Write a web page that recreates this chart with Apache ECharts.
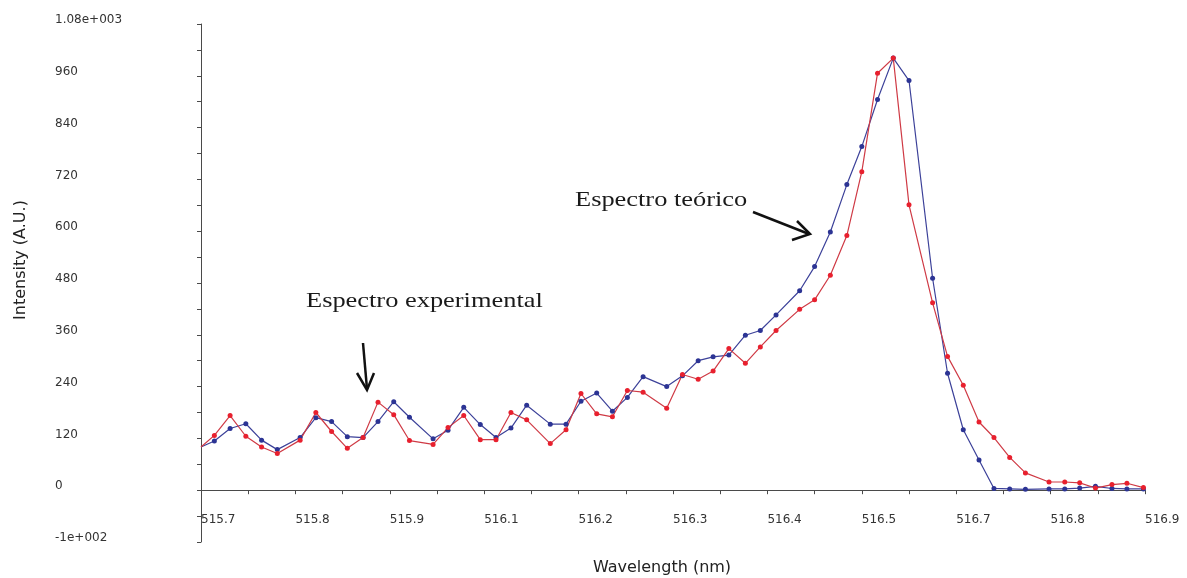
<!DOCTYPE html>
<html>
<head>
<meta charset="utf-8">
<script src="https://cdn.jsdelivr.net/npm/echarts@6/dist/echarts.min.js"></script>
<style>
  html, body { margin: 0; padding: 0; background: #fff; }
  #chart-container { width: 1187px; height: 578px; }
</style>
</head>
<body>
<div id="chart-container"></div>
<script>
// wavelength (nm) shared by both spectra
var wavelength = [515.700, 515.717, 515.737, 515.757, 515.777, 515.797, 515.826, 515.846, 515.866, 515.886,
    515.906, 515.925, 515.945, 515.965, 515.995, 516.014, 516.034, 516.055, 516.075, 516.094,
    516.114, 516.144, 516.164, 516.183, 516.203, 516.223, 516.242, 516.262, 516.292, 516.312,
    516.332, 516.351, 516.371, 516.392, 516.411, 516.431, 516.461, 516.480, 516.500, 516.521,
    516.540, 516.560, 516.580, 516.600, 516.630, 516.649, 516.669, 516.689, 516.708, 516.728,
    516.748, 516.778, 516.798, 516.817, 516.837, 516.858, 516.877, 516.898];

// red = experimental
var experimental = [100, 127, 173, 125, 100, 85, 116, 180, 136, 97,
    122, 204, 175, 115, 106, 145, 173, 117, 117, 180,
    163, 108, 140, 224, 177, 170, 231, 227, 190, 268,
    257, 276, 328, 294, 332, 370, 419, 441, 498, 590,
    738, 966, 1001, 661, 434, 310, 243, 158, 122, 76,
    40, 19, 19, 17, 5, 13, 16, 6];

// blue = theoretical
var theoretical = [100, 114, 143, 154, 116, 94, 122, 168, 159, 124,
    122, 159, 205, 169, 119, 139, 192, 152, 122, 144,
    197, 153, 153, 206, 225, 183, 215, 263, 240, 265,
    300, 309, 313, 359, 370, 406, 462, 518, 598, 708,
    796, 905, 1001, 949, 491, 271, 140, 70, 4, 3,
    2, 3, 3, 5, 9, 4, 3, 3];

// x axis ticks (labels are rounded to one decimal, as in the original)
var xLabelTicks = [515.70, 515.82, 515.94, 516.06, 516.18, 516.30, 516.42, 516.54, 516.66, 516.78, 516.90];
var xAllTicks = [515.70, 515.76, 515.82, 515.88, 515.94, 516.00, 516.06, 516.12, 516.18, 516.24, 516.30,
    516.36, 516.42, 516.48, 516.54, 516.60, 516.66, 516.72, 516.78, 516.84, 516.90];

function pairs(xs, ys) {
    return xs.map(function (x, i) {
        if (i === 0) return { value: [x, ys[i]], symbolSize: 0 };
        return [x, ys[i]];
    });
}

var dom = document.getElementById('chart-container');
var myChart = echarts.init(dom, null, { renderer: 'canvas' });

var axisColor = '#4a4a4a';
var labelFont = 'DejaVu Sans';
// grid: -120 .. 1080 over 24px .. 542px, so the zero line sits 51.8px above the bottom
var zeroOffset = -51.8;

var option = {
    animation: false,
    grid: { left: 201, right: 42, top: 24, bottom: 36, outerBoundsMode: 'none', containLabel: false },
    xAxis: {
        type: 'value',
        min: 515.70,
        max: 516.90,
        position: 'bottom',
        offset: zeroOffset,
        name: 'Wavelength (nm)',
        nameLocation: 'middle',
        nameGap: 70,
        nameTextStyle: { fontFamily: labelFont, fontSize: 16, color: '#222', padding: [0, 22, 0, 0] },
        axisLine: { onZero: false, lineStyle: { color: axisColor, width: 1 } },
        axisTick: { show: true, length: 4, customValues: xAllTicks, lineStyle: { color: axisColor } },
        axisLabel: {
            customValues: xLabelTicks,
            align: 'left',
            margin: 24,
            fontFamily: labelFont,
            fontSize: 12,
            color: '#333',
            formatter: function (v) { return v.toFixed(1); }
        },
        splitLine: { show: false }
    },
    yAxis: {
        type: 'value',
        min: -120,
        max: 1080,
        interval: 120,
        name: 'Intensity (A.U.)',
        nameLocation: 'middle',
        nameGap: 172,
        nameTextStyle: { fontFamily: labelFont, fontSize: 16, color: '#222', padding: [0, 0, 0, 46] },
        axisLine: { show: true, onZero: false, lineStyle: { color: axisColor, width: 1 } },
        axisTick: { show: true, length: 4, lineStyle: { color: axisColor } },
        minorTick: { show: true, splitNumber: 2, length: 4, lineStyle: { color: axisColor } },
        axisLabel: {
            align: 'left',
            verticalAlign: 'bottom',
            lineHeight: 8,
            margin: 146,
            fontFamily: labelFont,
            fontSize: 12,
            color: '#333',
            formatter: function (v) {
                if (v === 1080) return '1.08e+003';
                if (v === -120) return '-1e+002';
                return String(v);
            }
        },
        splitLine: { show: false }
    },
    graphic: [
        {
            type: 'text', left: 575, top: 189, scaleX: 1.2,
            style: { text: 'Espectro teórico', font: '22px "Liberation Serif"', fill: '#1a1a1a' }
        },
        {
            type: 'text', left: 306, top: 290, scaleX: 1.2,
            style: { text: 'Espectro experimental', font: '22px "Liberation Serif"', fill: '#1a1a1a' }
        },
        {
            type: 'polyline',
            shape: { points: [[753, 212], [809, 234]] },
            style: { stroke: '#111', lineWidth: 2.5, fill: null }
        },
        {
            type: 'polyline',
            shape: { points: [[797, 221], [810, 234], [792, 240]] },
            style: { stroke: '#111', lineWidth: 2.5, fill: null }
        },
        {
            type: 'polyline',
            shape: { points: [[363, 343], [367, 389]] },
            style: { stroke: '#111', lineWidth: 2.5, fill: null }
        },
        {
            type: 'polyline',
            shape: { points: [[357, 373], [367, 390], [374, 373]] },
            style: { stroke: '#111', lineWidth: 2.5, fill: null }
        }
    ],
    series: [
        {
            name: 'Espectro teórico',
            type: 'line',
            data: pairs(wavelength, theoretical),
            symbol: 'circle',
            symbolSize: 5,
            lineStyle: { color: '#3c4199', width: 1.2 },
            itemStyle: { color: '#2c3494' }
        },
        {
            name: 'Espectro experimental',
            type: 'line',
            data: pairs(wavelength, experimental),
            symbol: 'circle',
            symbolSize: 5,
            lineStyle: { color: '#cf3a45', width: 1.2 },
            itemStyle: { color: '#e8202e' }
        }
    ]
};

if (option && typeof option === 'object') {
    myChart.setOption(option);
}

window.addEventListener('resize', myChart.resize);
</script>
</body>
</html>
